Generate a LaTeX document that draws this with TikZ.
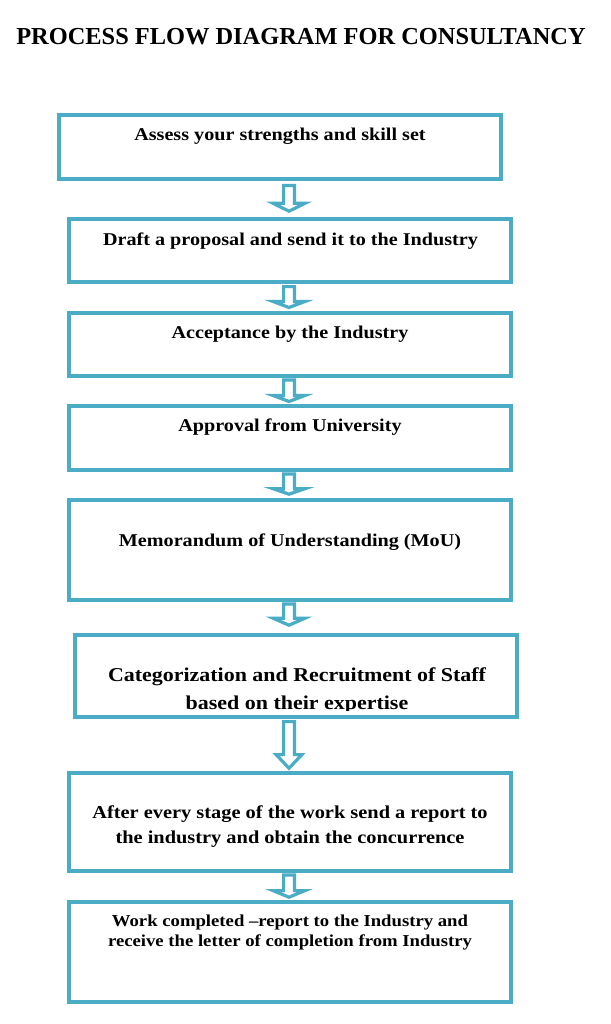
\documentclass[tikz,border=0pt]{standalone}
\usepackage{fontspec}
\setmainfont{Liberation Serif}
\newfontfamily\boxfont[FakeStretch=1.12]{Liberation Serif}
\usetikzlibrary{calc}
\definecolor{accent}{HTML}{4BACC6}
\newcommand{\hollowarrow}[6]{%
  \draw[arr] let \p1=($(#1.south -| axis)+(0,#3)$), \p2=($(#2.north -| axis)+(0,-#4)$) in
    (\x1-5.4pt,\y1) -- (\x1-5.4pt,\y2+#5pt) -- (\x1-#6pt,\y2+#5pt) -- (\x1,\y2)
    -- (\x1+#6pt,\y2+#5pt) -- (\x1+5.4pt,\y2+#5pt) -- (\x1+5.4pt,\y1) -- cycle;}
\begin{document}
\begin{tikzpicture}[x=1pt,y=-1pt,
  box/.style={draw=accent, line width=3.6pt, rectangle, inner sep=0pt, outer sep=0pt, anchor=north west, minimum width=442},
  txt/.style={font=\boxfont\bfseries\fontsize{18}{25.5}\selectfont, anchor=base, inner sep=0pt, align=center},
  arr/.style={draw=accent, line width=3.2pt, fill=white}]
\useasboundingbox (0,0) rectangle (610,1024);
\fill[white] (0,0) rectangle (610,1024);
\coordinate (axis) at (289,0);

\node[font=\bfseries\fontsize{24.4}{28}\selectfont, anchor=base, inner sep=0pt] (title) at (301,45) {PROCESS FLOW DIAGRAM FOR CONSULTANCY};

\node[box, minimum height=64] (b1) at (59,115) {};
\node[box, minimum height=63] (b2) at (69,219) {};
\node[box, minimum height=63] (b3) at (69,313) {};
\node[box, minimum height=64] (b4) at (69,406) {};
\node[box, minimum height=100] (b5) at (69,500) {};
\node[box, minimum height=82] (b6) at (75,635) {};
\node[box, minimum height=98] (b7) at (69,773) {};
\node[box, minimum height=100] (b8) at (69,902) {};

\node[txt] (t1) at (280,141) {Assess your strengths and skill set};
\node[txt] (t2) at (290.5,245) {Draft a proposal and send it to the Industry};
\node[txt] (t3) at (290,338) {Acceptance by the Industry};
\node[txt] (t4) at (290,431.5) {Approval from University};
\node[txt] (t5) at (290,546) {Memorandum of Understanding (MoU)};
\begin{scope}
  \clip (75,635) rectangle (517,710);
  \node[txt, font=\boxfont\bfseries\fontsize{19.6}{27.5}\selectfont] (t6) at (297,709) {Categorization and Recruitment of Staff\\based on their expertise};
\end{scope}
\node[txt, font=\boxfont\bfseries\fontsize{18.2}{25}\selectfont] (t7) at (290,843) {After every stage of the work send a report to\\the industry and obtain the concurrence};
\node[txt, font=\boxfont\bfseries\fontsize{16.7}{20}\selectfont] (t8) at (290,946.7) {Work completed –report to the Industry and\\receive the letter of completion from Industry};

\hollowarrow{b1}{b2}{6.6}{7.8}{7.9}{15.9}
\hollowarrow{b2}{b3}{4.6}{5.5}{6}{15.9}
\hollowarrow{b3}{b4}{4}{4.5}{6}{15.9}
\hollowarrow{b4}{b5}{4}{5.8}{5.5}{15.9}
\hollowarrow{b5}{b6}{4}{9.8}{7}{15.9}
\hollowarrow{b6}{b7}{4.6}{4.8}{13.6}{12.9}
\hollowarrow{b7}{b8}{4}{4.8}{6.6}{15.9}
\end{tikzpicture}
\end{document}
